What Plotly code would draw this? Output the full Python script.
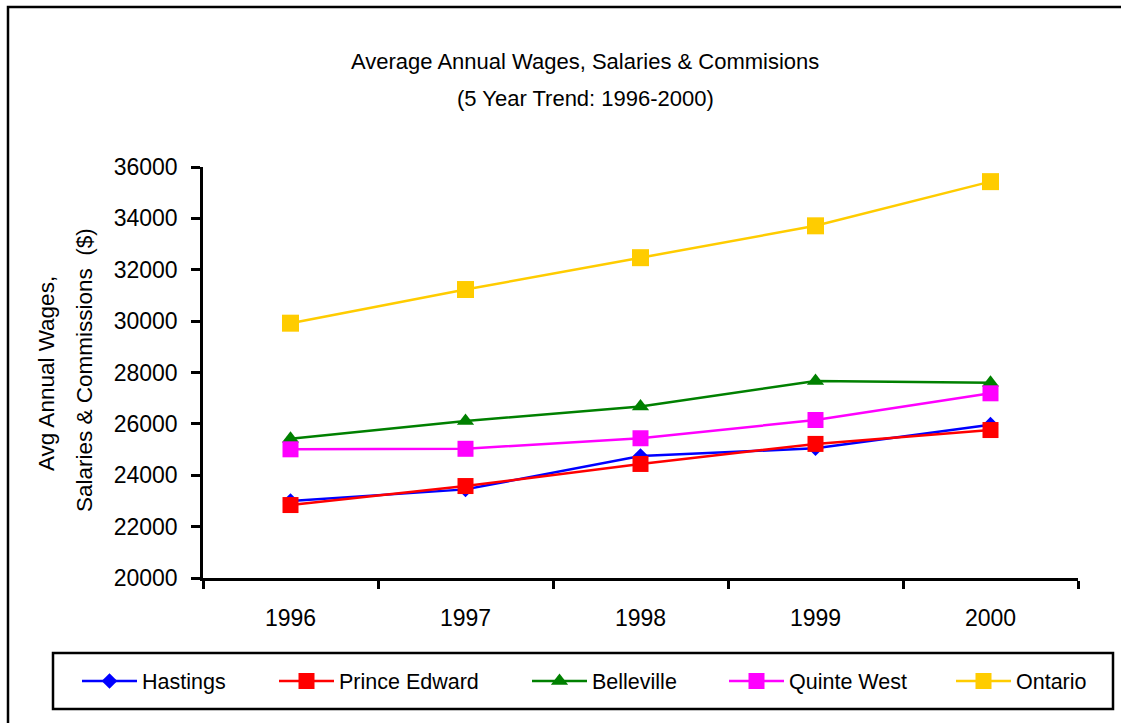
import plotly.graph_objects as go

# ---- data ----
years = ["1996", "1997", "1998", "1999", "2000"]
hastings = [23000, 23450, 24750, 25050, 25970]
prince_edward = [22840, 23580, 24440, 25220, 25760]
belleville = [25420, 26110, 26680, 27670, 27600]
quinte_west = [25010, 25030, 25440, 26150, 27190]
ontario = [29920, 31230, 32470, 33710, 35430]
series_names = ["Hastings", "Prince Edward", "Belleville", "Quinte West", "Ontario"]
y_ticks = [20000, 22000, 24000, 26000, 28000, 30000, 32000, 34000, 36000]
y_tick_labels = [str(v) for v in y_ticks]

# ---- layout geometry (pixels) ----
W, H = 1121, 723
L, R, T, B = 203, 1078, 167, 578
PW, PH = R - L, B - T


def px2x(px):
    return (px - L) / PW


def py2y(py):
    return (B - py) / PH


FONT = "Liberation Sans, Arial, sans-serif"

styles = [
    dict(color="#0000FF", symbol="diamond", size=12),
    dict(color="#FF0000", symbol="square", size=16),
    dict(color="#008000", symbol="triangle-up", size=15),
    dict(color="#FF00FF", symbol="square", size=16),
    dict(color="#FFCC00", symbol="square", size=17),
]
values = [hastings, prince_edward, belleville, quinte_west, ontario]
legend_ids = ["legend", "legend2", "legend3", "legend4", "legend5"]
legend_line_starts = [82, 279, 532, 729, 956]

fig = go.Figure()
for name, vals, st, lid in zip(series_names, values, styles, legend_ids):
    fig.add_trace(go.Scatter(
        x=years, y=vals, name=name, mode="lines+markers",
        line=dict(color=st["color"], width=2.5),
        marker=dict(color=st["color"], symbol=st["symbol"], size=st["size"],
                    line=dict(width=0)),
        legend=lid,
    ))

legend_common = dict(
    orientation="v", xanchor="left", yanchor="middle", y=py2y(681),
    bgcolor="rgba(0,0,0,0)", borderwidth=0, itemwidth=55,
    font=dict(family=FONT, size=21.5, color="#000000"),
)
layout_legends = {}
for lid, ls in zip(legend_ids, legend_line_starts):
    layout_legends[lid] = dict(legend_common, x=px2x(ls - 5))

fig.update_layout(
    width=W, height=H,
    margin=dict(l=L, r=W - R, t=T, b=H - B, pad=0),
    paper_bgcolor="white", plot_bgcolor="white",
    showlegend=True,
    font=dict(family=FONT, color="#000000"),
    xaxis=dict(
        type="category", range=[-0.5, 4.5], tickson="boundaries",
        showline=True, linecolor="black", linewidth=2.5,
        ticks="outside", ticklen=8, tickwidth=2.5, tickcolor="black",
        showgrid=False, zeroline=False,
        tickfont=dict(family=FONT, size=23, color="black"),
        ticklabelstandoff=18,
    ),
    yaxis=dict(
        range=[20000, 36000], tickvals=y_ticks, ticktext=y_tick_labels,
        showline=True, linecolor="black", linewidth=2.5,
        ticks="outside", ticklen=9, tickwidth=2.5, tickcolor="black",
        showgrid=False, zeroline=False,
        tickfont=dict(family=FONT, size=23, color="black"),
        ticklabelstandoff=9,
    ),
    **layout_legends,
)

# title lines
fig.add_annotation(text="Average Annual Wages, Salaries & Commisions",
                   xref="paper", yref="paper", x=px2x(584.5), y=py2y(62),
                   xanchor="center", yanchor="middle", showarrow=False,
                   font=dict(family=FONT, size=22, color="black"))
fig.add_annotation(text="(5 Year Trend: 1996-2000)",
                   xref="paper", yref="paper", x=px2x(585), y=py2y(98),
                   xanchor="center", yanchor="middle", showarrow=False,
                   font=dict(family=FONT, size=22, color="black"))
# y axis title (two lines)
fig.add_annotation(text="Avg Annual Wages,",
                   xref="paper", yref="paper", x=px2x(46), y=py2y(374),
                   xanchor="center", yanchor="middle", showarrow=False, textangle=-90,
                   font=dict(family=FONT, size=22.5, color="black"))
fig.add_annotation(text="Salaries & Commissions  ($)",
                   xref="paper", yref="paper", x=px2x(84), y=py2y(370),
                   xanchor="center", yanchor="middle", showarrow=False, textangle=-90,
                   font=dict(family=FONT, size=22.5, color="black"))

# outer chart border
fig.add_shape(type="rect", xref="paper", yref="paper",
              x0=px2x(8), x1=px2x(1180), y0=py2y(780), y1=py2y(7),
              line=dict(color="black", width=2.5), fillcolor="rgba(0,0,0,0)", layer="above")
# legend box
fig.add_shape(type="rect", xref="paper", yref="paper",
              x0=px2x(53), x1=px2x(1113), y0=py2y(709), y1=py2y(653),
              line=dict(color="black", width=2.5), fillcolor="rgba(0,0,0,0)", layer="above")

fig.write_html("out.html", config={"displayModeBar": False},
               post_script="document.body.style.margin='0px';document.body.style.overflow='hidden';")
